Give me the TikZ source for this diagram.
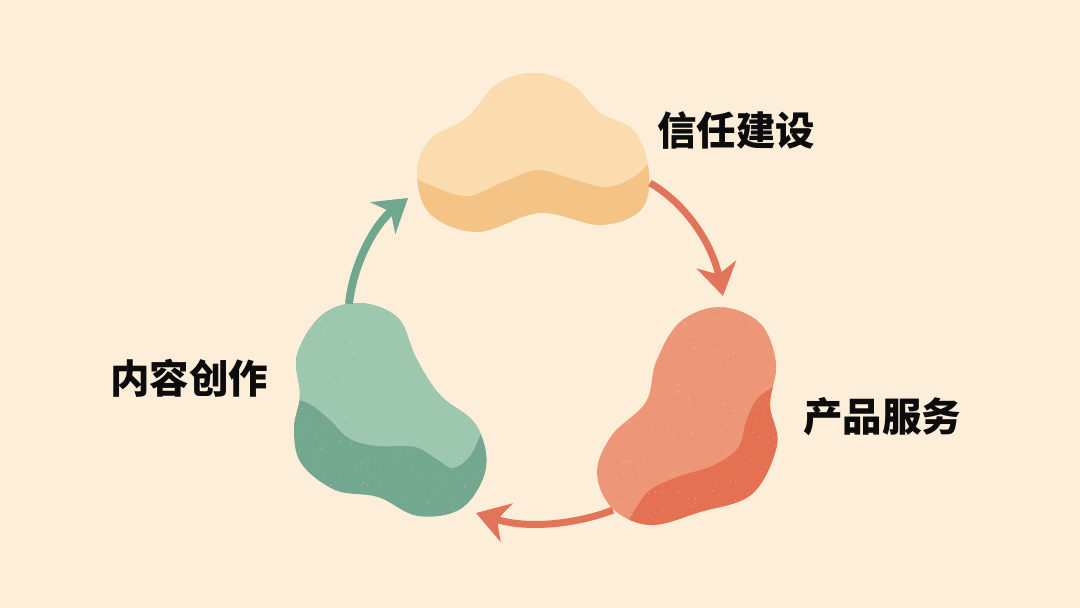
\documentclass[tikz,border=0pt]{standalone}
\usepackage{fontspec}
\newfontfamily\cjkbold{Noto Sans CJK SC Black}
\usetikzlibrary{arrows.meta}
\definecolor{paper}{HTML}{FDEEDA}
\definecolor{sandL}{HTML}{FADCAE}
\definecolor{sandD}{HTML}{F4C486}
\definecolor{mintL}{HTML}{9DC7AF}
\definecolor{mintD}{HTML}{73A78F}
\definecolor{coralL}{HTML}{EE9678}
\definecolor{coralD}{HTML}{E57153}
\definecolor{arrowCoral}{HTML}{E27459}
\definecolor{arrowMint}{HTML}{70A78F}
\definecolor{ink}{HTML}{0C0C0C}
\tikzset{
  label text/.style={font=\cjkbold\fontsize{39.5}{41}\selectfont,text=ink,inner sep=0pt},
  flow/.style={line width=#1,line cap=butt},
  flow head/.style={-{Stealth[length=32pt,width=40pt,inset=10pt]}},
}
\newcommand{\specks}[6]{% x0,y0,w,h,count,opacity
  \foreach \i in {1,...,#5}{
    \pgfmathsetmacro{\px}{#1+rnd*#3}
    \pgfmathsetmacro{\py}{#2+rnd*#4}
    \pgfmathsetmacro{\pr}{0.35+0.6*rnd}
    \fill[white,opacity=#6] (\px,\py) circle (\pr);
  }}
\newcommand{\sandpath}{plot[smooth cycle,tension=0.6] coordinates {(535,73)(572,85)(600,113)(634,131)(649,172)(641,210)(600,225)(540,213)(478,232)(430,214)(417,172)(431,139)(467,118)(497,84)}}
\newcommand{\mintpath}{plot[smooth cycle,tension=0.6] coordinates {(360,303)(398,318)(416,358)(440,395)(476,425)(486,468)(462,508)(418,516)(378,497)(335,490)(301,463)(294,428)(300,395)(297,355)(322,315)}}
\newcommand{\coralpath}{plot[smooth cycle,tension=0.6] coordinates {(720,307)(760,323)(776,363)(770,405)(777,445)(752,494)(700,512)(650,525)(612,508)(597,472)(612,435)(646,402)(656,362)(680,322)}}
\begin{document}
\begin{tikzpicture}[x=1pt,y=-1pt]
\pgfmathsetseed{7}
\useasboundingbox (0,0) rectangle (1080,608);
\fill[paper] (0,0) rectangle (1080,608);
% sand blob
\begin{scope}
  \clip \sandpath;
  \fill[sandD] (400,60) rectangle (670,240);
  \fill[sandL] plot[smooth,tension=0.6] coordinates {(405,172)(428,184)(467,196)(503,182)(537,170)(570,178)(605,187)(632,178)(652,160)(665,145)} -- (665,60) -- (405,60) -- cycle;
  \specks{410}{165}{240}{70}{120}{0.10}
\end{scope}
% mint blob
\begin{scope}
  \clip \mintpath;
  \fill[mintD] (285,295) rectangle (495,525);
  \fill[mintL] plot[smooth,tension=0.6] coordinates {(285,398)(308,403)(330,420)(350,439)(378,446)(415,447)(438,460)(453,468)(470,456)(482,432)(495,415)} -- (495,295) -- (285,295) -- cycle;
  \specks{290}{300}{200}{220}{420}{0.22}
\end{scope}
% coral blob
\begin{scope}
  \clip \coralpath;
  \fill[coralL] (590,300) rectangle (785,530);
  \fill[coralD] plot[smooth,tension=0.6] coordinates {(785,380)(758,398)(746,422)(738,448)(712,466)(680,476)(650,490)(635,510)(622,532)} -- (785,532) -- cycle;
  \specks{590}{305}{190}{222}{420}{0.24}
\end{scope}
% connector ends
\coordinate (sandOut) at (650,183);
\coordinate (coralIn) at (723,296);
\coordinate (coralOut) at (613,510);
\coordinate (mintIn) at (476,513);
\coordinate (mintOut) at (349,304);
\coordinate (sandIn) at (408,198);
\draw[flow=7pt,flow head,draw=arrowCoral] (sandOut) .. controls (685,203) and (712,243) .. (coralIn);
\draw[flow=7pt,flow head,draw=arrowCoral] (coralOut) .. controls (580,523) and (530,530) .. (mintIn);
\draw[flow=8pt,flow head,draw=arrowMint] (mintOut) .. controls (353,265) and (374,225) .. (sandIn);
% labels
\node[label text] (trust) at (736,130) {信任建设};
\node[label text] (product) at (882,417) {产品服务};
\node[label text] (content) at (189,378) {内容创作};
\end{tikzpicture}
\end{document}
